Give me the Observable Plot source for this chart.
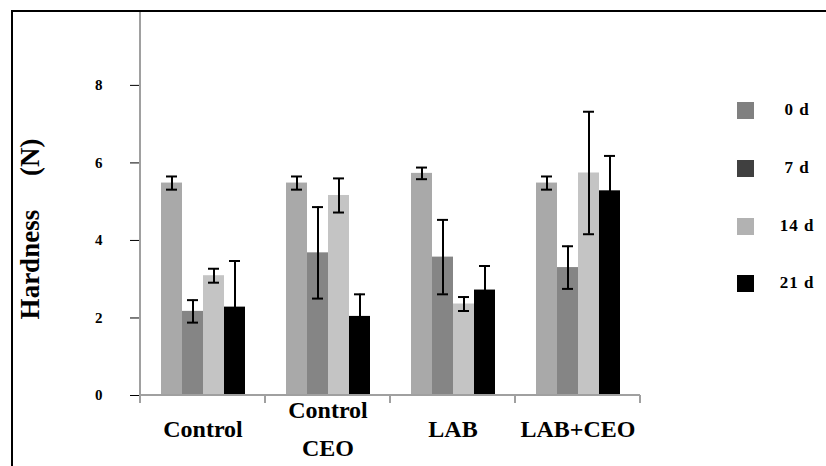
<!DOCTYPE html>
<html>
<head>
<meta charset="utf-8">
<script src="https://cdn.jsdelivr.net/npm/d3@7"></script>
<script src="https://cdn.jsdelivr.net/npm/@observablehq/plot@0.6"></script>
<style>
  html, body { margin: 0; padding: 0; background: #fff; }
  #wrap { position: relative; width: 826px; height: 466px; overflow: hidden; background: #fff; font-family: 'Liberation Serif'; }
  #border { position: absolute; left: 11px; top: 10px; width: 900px; height: 600px; border: 2px solid #000; box-sizing: border-box; }
  #chart { position: absolute; left: 0; top: 0; }
  #chart text { font-family: 'Liberation Serif'; }
  #chart [aria-label="y-axis tick"] { stroke: #a0a0a0; }
  #legend { position: absolute; left: 0; top: 0; }
  .sw { position: absolute; width: 17px; height: 17px; }
  .lt { position: absolute; font-weight: bold; font-size: 17px; font-family: 'Liberation Serif'; letter-spacing: 1px; transform: translate(-50%, -50%); white-space: nowrap; }
</style>
</head>
<body>
<div id="wrap">
  <div id="border"></div>
  <div id="chart"></div>
  <div id="legend"></div>
</div>
<script>
const groups = ["Control", "Control CEO", "LAB", "LAB+CEO"];
const groupLabels = ["Control", "Control\nCEO", "LAB", "LAB+CEO"];
const series = ["0 d", "7 d", "14 d", "21 d"];
const mean0  = [5.48, 5.48, 5.73, 5.48];
const mean7  = [2.17, 3.68, 3.57, 3.30];
const mean14 = [3.09, 5.16, 2.36, 5.74];
const mean21 = [2.28, 2.04, 2.72, 5.28];
const sd0  = [0.17, 0.17, 0.15, 0.17];
const sd7  = [0.29, 1.18, 0.96, 0.55];
const sd14 = [0.18, 0.44, 0.18, 1.58];
const sd21 = [1.19, 0.57, 0.62, 0.90];
const yTicks = [0, 2, 4, 6, 8];
const yLabel = "Hardness\u00a0\u00a0\u00a0\u00a0\u00a0(N)";
const barColors = ["#a9a9a9", "#858585", "#c4c4c4", "#000000"];
const legendColors = ["#808080", "#404040", "#b2b2b2", "#000000"];

const means = [mean0, mean7, mean14, mean21];
const sds = [sd0, sd7, sd14, sd21];
const data = [];
groups.forEach((g, gi) => {
  series.forEach((s, si) => {
    const m = means[si][gi], e = sds[si][gi];
    data.push({group: g, series: s, value: m, lo: m - e, hi: m + e});
  });
});
const labelRows = groups.map((g, i) => ({group: g, label: groupLabels[i], multi: groupLabels[i].includes("\n")}));

const font = "Liberation Serif";
const plot = Plot.plot({
  width: 826,
  height: 466,
  marginLeft: 140,
  marginRight: 186,
  marginTop: 12,
  marginBottom: 71,
  style: {fontFamily: font, background: "transparent", overflow: "visible"},
  fx: {domain: groups, padding: 0, axis: null},
  x: {domain: series, paddingInner: 0, paddingOuter: 0.857, axis: null},
  y: {domain: [0, 9.88]},
  color: {domain: series, range: barColors},
  marks: [
    Plot.barY(data, {fx: "group", x: "series", y: "value", fill: "series", inset: 0}),
    Plot.ruleX(data, {fx: "group", x: "series", y1: "lo", y2: "hi", stroke: "#000", strokeWidth: 2}),
    Plot.tickY(data, {fx: "group", x: "series", y: "lo", stroke: "#000", strokeWidth: 2, insetLeft: 5, insetRight: 5}),
    Plot.tickY(data, {fx: "group", x: "series", y: "hi", stroke: "#000", strokeWidth: 2, insetLeft: 5, insetRight: 5}),
    Plot.axisY({ticks: yTicks, tickSize: 10, tickPadding: 28, label: null, fontSize: 15, fontWeight: "bold", fontFamily: font, fill: "#000"}),
    Plot.text(labelRows, {filter: d => !d.multi, fx: "group", text: "label", frameAnchor: "bottom", dy: 34, lineAnchor: "middle", fontSize: 24, fontWeight: "bold", fontFamily: font, fill: "#000"}),
    Plot.text(labelRows, {filter: d => d.multi, fx: "group", text: "label", frameAnchor: "bottom", dy: 29, lineAnchor: "middle", lineHeight: 1.6, fontSize: 24, fontWeight: "bold", fontFamily: font, fill: "#000"}),
    Plot.text([yLabel], {fx: () => groups[0], text: d => d, frameAnchor: "left", textAnchor: "middle", dx: -110, dy: 25, rotate: -90, fontSize: 27, fontWeight: "bold", fontFamily: font, fill: "#000"})
  ]
});
document.getElementById("chart").appendChild(plot);

// axis lines and x-axis ticks, positioned through Plot's scales
const fxs = plot.scale("fx");
const ys = plot.scale("y");
const svg = d3.select(plot);
const y0 = ys.apply(0), yTop = ys.apply(ys.domain[1]);
const edges = groups.map(g => fxs.apply(g)).concat([fxs.apply(groups[groups.length - 1]) + fxs.bandwidth]);
const ax = svg.append("g").attr("stroke", "#a0a0a0").attr("stroke-width", 2);
ax.append("line").attr("x1", edges[0]).attr("x2", edges[0]).attr("y1", yTop).attr("y2", y0);
ax.append("line").attr("x1", edges[0]).attr("x2", edges[edges.length - 1]).attr("y1", y0).attr("y2", y0);
edges.forEach(x => ax.append("line").attr("x1", x).attr("x2", x).attr("y1", y0).attr("y2", y0 + 8));

// legend
const legendTop = [110, 168, 226, 283];
const lg = document.getElementById("legend");
series.forEach((s, i) => {
  const sw = document.createElement("div");
  sw.className = "sw";
  sw.style.left = "737px";
  sw.style.top = (legendTop[i] - 8) + "px";
  sw.style.background = legendColors[i];
  lg.appendChild(sw);
  const t = document.createElement("div");
  t.className = "lt";
  t.style.left = "797px";
  t.style.top = legendTop[i] + "px";
  t.textContent = s;
  lg.appendChild(t);
});
</script>
</body>
</html>
